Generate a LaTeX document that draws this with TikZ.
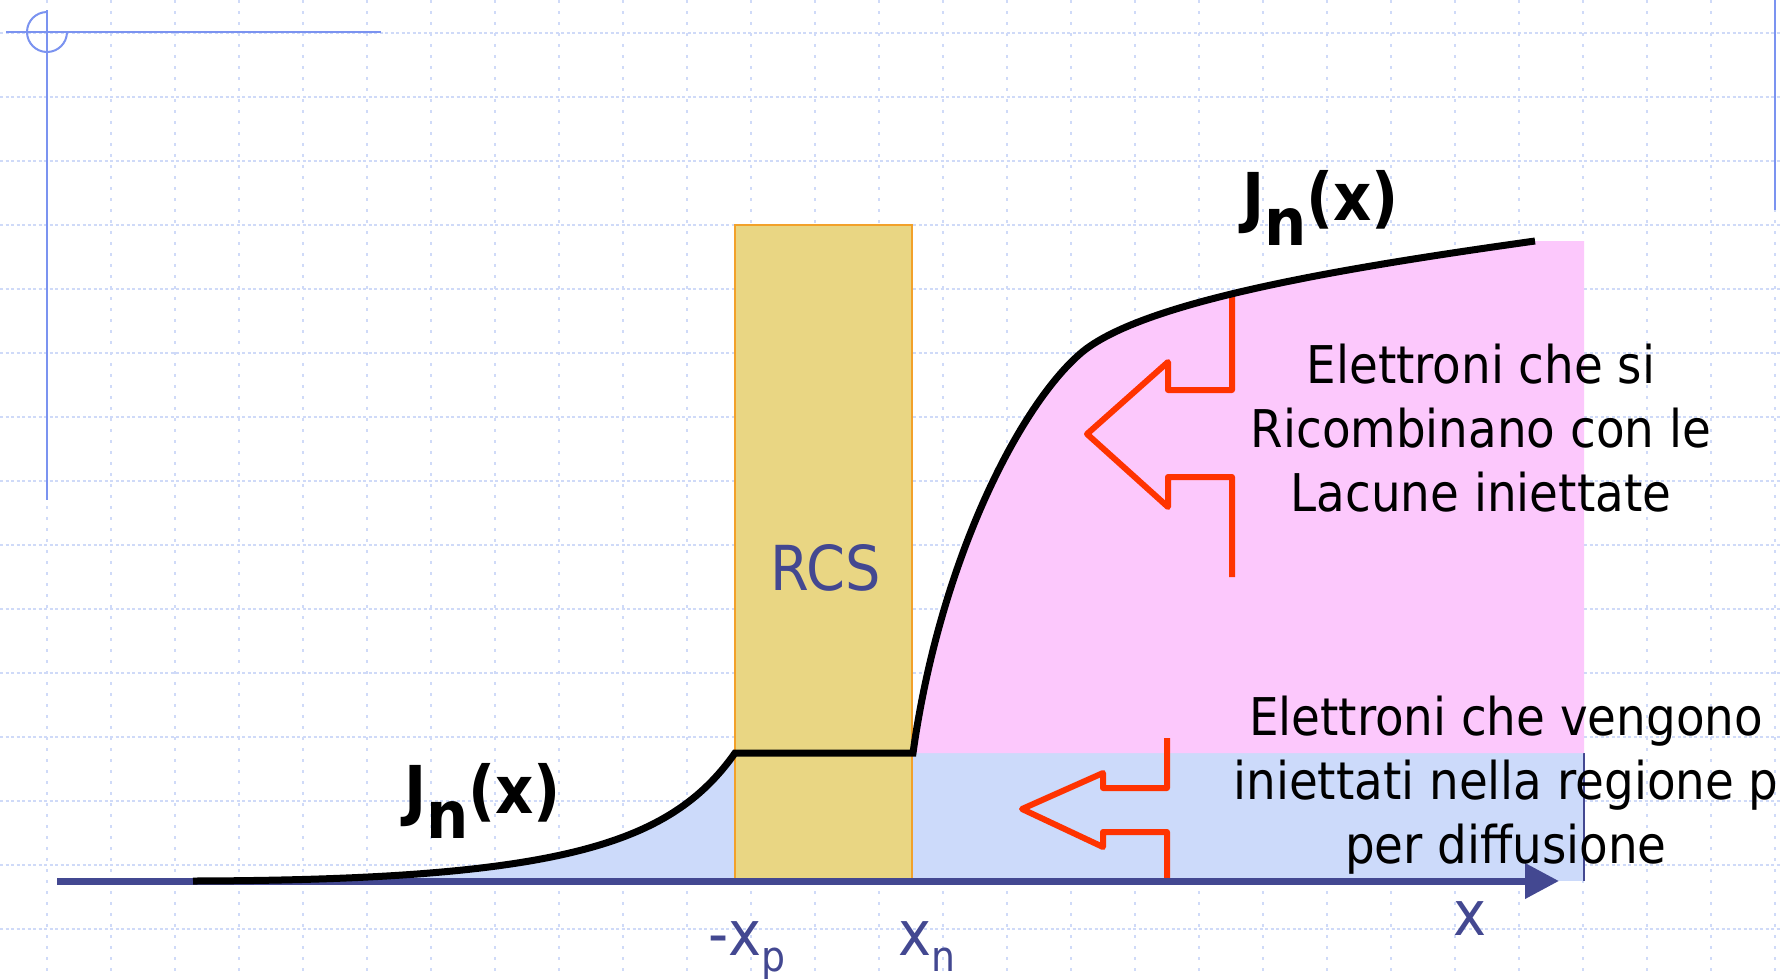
\documentclass[tikz,border=0pt]{standalone}
\usepackage{fontspec}
\setmainfont{DejaVu Sans Condensed}
\usepackage{tikz}
\usetikzlibrary{arrows.meta}
\definecolor{jngrid}{HTML}{CFDAF8}
\definecolor{jndeco}{HTML}{7B93F0}
\definecolor{jnaxis}{HTML}{434891}
\definecolor{jnrcs}{HTML}{E9D683}
\definecolor{jnrcsedge}{HTML}{F2A12A}
\definecolor{jnblue}{HTML}{CCDAFA}
\definecolor{jnpink}{HTML}{FCC8FC}
\definecolor{jnred}{HTML}{FF3300}

\begin{document}
\begin{tikzpicture}[
  x=1pt,y=-1pt,
  gridv/.style={jngrid,line width=1.6pt,dash pattern=on 3pt off 8pt},
  gridh/.style={jngrid,line width=1.6pt,dash pattern=on 3pt off 2.5pt},
  deco/.style={jndeco,line width=2pt},
  rcsbox/.style={fill=jnrcs,draw=jnrcsedge,line width=2pt,minimum width=177pt,minimum height=656pt,inner sep=0pt},
  jncurve/.style={black,line width=7pt},
  blockarrow/.style={jnred,line width=6pt,line join=round},
  axisline/.style={jnaxis,line width=7pt,-{Triangle[length=34pt,width=34pt]}},
  note/.style={inner sep=0pt,align=center,font=\fontsize{52}{64}\selectfont},
  jnlabel/.style={inner sep=0pt,anchor=base west,font=\bfseries\fontsize{66}{74}\selectfont},
  xlabel/.style={inner sep=0pt,anchor=base west,text=jnaxis,font=\fontsize{62}{70}\selectfont}
]
  \useasboundingbox (0,0) rectangle (1781,978);
  \clip (0,0) rectangle (1781,978);
  \fill[white] (0,0) rectangle (1781,978);
  \foreach \gx in {47,111,...,1775} \draw[gridv] (\gx,0) -- (\gx,978);
  \foreach \gy in {33,97,...,929} \draw[gridh] (0,\gy) -- (1781,\gy);
  \draw[deco] (6,32) -- (381,32);
  \draw[deco] (47,10) -- (47,500);
  \draw[deco] (47,12) arc[start angle=-90,end angle=-360,radius=20];
  \draw[deco] (1775,0) -- (1775,210);

  \fill[jnblue] (193,881) .. controls (560,880) and (670,845) .. (735,753) -- (735,881) -- cycle;
  \fill[jnblue] (912,753) rectangle (1584,881);
  \draw[jnaxis,line width=1.5pt] (1584,753) -- (1584,881);
  \fill[jnpink] (913,753) .. controls (940,560) and (1020,405) .. (1081,353)
    .. controls (1141,302) and (1335,269) .. (1535,241) -- (1584,241) -- (1584,753) -- cycle;
  \node[rcsbox] (rcs) at (823.5,553) {};
  \node[inner sep=0pt,text=jnaxis,font=\fontsize{62}{70}\selectfont] (rcstext) at (826,568) {RCS};

  \draw[blockarrow] (1232,293) -- (1232,390) -- (1168,390) -- (1168,362) -- (1087,434) -- (1168,507) -- (1168,477) -- (1232,477) -- (1232,577);
  \draw[blockarrow] (1167,738) -- (1167,788) -- (1103,788) -- (1103,773) -- (1022,809) -- (1103,847) -- (1103,832) -- (1167,832) -- (1167,878);

  \coordinate (axisstart) at (57,881);
  \coordinate (axisend) at (1559,881);
  \draw[axisline] (axisstart) -- (axisend);

  \draw[jncurve] (193,881) .. controls (560,880) and (670,845) .. (735,753) -- (913,753)
    .. controls (940,560) and (1020,405) .. (1081,353)
    .. controls (1141,302) and (1335,269) .. (1535,241);

  \node[jnlabel] (jnright) at (1242,220) {J\raisebox{-25pt}{n}(x)};
  \node[jnlabel] (jnleft) at (404,813) {J\raisebox{-25pt}{n}(x)};
  \node[note] (recomb) at (1481,428) {Elettroni che si\\Ricombinano con le\\Lacune iniettate};
  \node[note] (inject) at (1506,785) {Elettroni che vengono\\iniettati nella regione p\\per diffusione};
  \node[xlabel] (xp) at (708,955) {-x\raisebox{-16pt}{\fontsize{42}{50}\selectfont p}};
  \node[xlabel] (xn) at (898,955) {x\raisebox{-16pt}{\fontsize{42}{50}\selectfont n}};
  \node[xlabel] (xaxis) at (1453,935) {x};
\end{tikzpicture}
\end{document}
